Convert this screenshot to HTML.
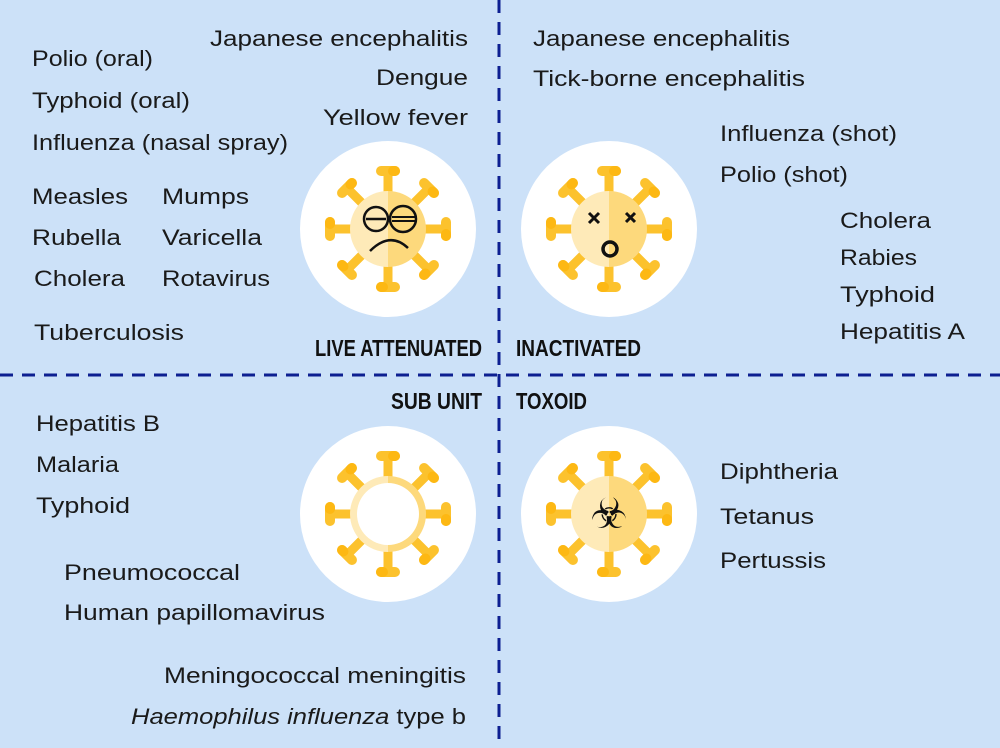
<!DOCTYPE html>
<html><head><meta charset="utf-8"><style>
html,body{margin:0;padding:0;background:#cce1f8;}
svg{display:block}
text{font-family:"Liberation Sans",sans-serif;font-size:22px;fill:#1a1a1a}
.l{font-weight:bold;font-size:23px;fill:#111}
</style></head><body>
<svg width="1000" height="748" viewBox="0 0 1000 748" xmlns="http://www.w3.org/2000/svg">
<defs>
<g id="spikes">
 <g id="sp"><rect x="-4.5" y="-56" width="9" height="20" fill="#fcc22d"/><rect x="-12" y="-63" width="24" height="10" rx="5" fill="#fcc22d"/><rect x="0" y="-63" width="12" height="10" rx="5" fill="#fdb813"/></g>
 <use href="#sp" transform="rotate(45)"/><use href="#sp" transform="rotate(90)"/><use href="#sp" transform="rotate(135)"/>
 <use href="#sp" transform="rotate(180)"/><use href="#sp" transform="rotate(225)"/><use href="#sp" transform="rotate(270)"/><use href="#sp" transform="rotate(315)"/>
</g>
<g id="body">
 <path d="M0,-38 A38,38 0 0 0 0,38 Z" fill="#feeab8"/>
 <path d="M0,-38 A38,38 0 0 1 0,38 Z" fill="#fdd97c"/>
</g>
</defs>
<rect width="1000" height="748" fill="#cce1f8"/>
<line x1="499" y1="0" x2="499" y2="748" stroke="#0d1f91" stroke-width="3" stroke-dasharray="13 9"/>
<line x1="0" y1="375" x2="1000" y2="375" stroke="#0d1f91" stroke-width="3" stroke-dasharray="13 9"/>

<circle cx="388" cy="229" r="88" fill="#fff"/>
<circle cx="609" cy="229" r="88" fill="#fff"/>
<circle cx="388" cy="514" r="88" fill="#fff"/>
<circle cx="609" cy="514" r="88" fill="#fff"/>

<g transform="translate(388,229)"><use href="#spikes"/><use href="#body"/>
 <circle cx="-12" cy="-10" r="12" fill="none" stroke="#111" stroke-width="2.5"/><circle cx="15" cy="-10" r="13" fill="none" stroke="#111" stroke-width="2.5"/>
 <line x1="-22" y1="-10" x2="-2" y2="-10" stroke="#111" stroke-width="2.5"/><line x1="4" y1="-12" x2="27" y2="-12" stroke="#111" stroke-width="2"/><line x1="4" y1="-8" x2="27" y2="-8" stroke="#111" stroke-width="2"/>
 <path d="M-18,22 Q2,2 20,19" fill="none" stroke="#111" stroke-width="2.5"/></g>
<g transform="translate(609,229)"><use href="#spikes"/><use href="#body"/>
 <path d="M-20,-16 l10,10 M-10,-16 l-10,10 M17,-16 l9,9 M26,-16 l-9,9" stroke="#111" stroke-width="3"/>
 <circle cx="1" cy="20" r="7" fill="none" stroke="#111" stroke-width="3.5"/></g>
<g transform="translate(388,514)"><use href="#spikes"/><use href="#body"/><circle r="31" fill="#fff"/></g>
<g transform="translate(609,514)"><use href="#spikes"/><use href="#body"/>
 <text x="0" y="14" text-anchor="middle" style="font-family:'DejaVu Sans',sans-serif;font-size:42px;fill:#111">☣</text></g>

<g lengthAdjust="spacingAndGlyphs">
<text x="32" y="66" textLength="121" lengthAdjust="spacingAndGlyphs">Polio (oral)</text>
<text x="32" y="108" textLength="158" lengthAdjust="spacingAndGlyphs">Typhoid (oral)</text>
<text x="32" y="150" textLength="256" lengthAdjust="spacingAndGlyphs">Influenza (nasal spray)</text>
<text x="210" y="46" textLength="258" lengthAdjust="spacingAndGlyphs">Japanese encephalitis</text>
<text x="376" y="85" textLength="92" lengthAdjust="spacingAndGlyphs">Dengue</text>
<text x="323" y="125" textLength="145" lengthAdjust="spacingAndGlyphs">Yellow fever</text>
<text x="32" y="204" textLength="96" lengthAdjust="spacingAndGlyphs">Measles</text><text x="162" y="204" textLength="87" lengthAdjust="spacingAndGlyphs">Mumps</text>
<text x="32" y="245" textLength="89" lengthAdjust="spacingAndGlyphs">Rubella</text><text x="162" y="245" textLength="100" lengthAdjust="spacingAndGlyphs">Varicella</text>
<text x="34" y="286" textLength="91" lengthAdjust="spacingAndGlyphs">Cholera</text><text x="162" y="286" textLength="108" lengthAdjust="spacingAndGlyphs">Rotavirus</text>
<text x="34" y="340" textLength="150" lengthAdjust="spacingAndGlyphs">Tuberculosis</text>
<text class="l" x="315" y="356" textLength="167" lengthAdjust="spacingAndGlyphs">LIVE ATTENUATED</text>
<text class="l" x="516" y="356" textLength="125" lengthAdjust="spacingAndGlyphs">INACTIVATED</text>
<text class="l" x="391" y="409" textLength="91" lengthAdjust="spacingAndGlyphs">SUB UNIT</text>
<text class="l" x="516" y="409" textLength="71" lengthAdjust="spacingAndGlyphs">TOXOID</text>

<text x="533" y="46" textLength="257" lengthAdjust="spacingAndGlyphs">Japanese encephalitis</text>
<text x="533" y="86" textLength="272" lengthAdjust="spacingAndGlyphs">Tick-borne encephalitis</text>
<text x="720" y="141" textLength="177" lengthAdjust="spacingAndGlyphs">Influenza (shot)</text>
<text x="720" y="182" textLength="128" lengthAdjust="spacingAndGlyphs">Polio (shot)</text>
<text x="840" y="228" textLength="91" lengthAdjust="spacingAndGlyphs">Cholera</text>
<text x="840" y="265" textLength="77" lengthAdjust="spacingAndGlyphs">Rabies</text>
<text x="840" y="302" textLength="95" lengthAdjust="spacingAndGlyphs">Typhoid</text>
<text x="840" y="339" textLength="125" lengthAdjust="spacingAndGlyphs">Hepatitis A</text>

<text x="36" y="431" textLength="124" lengthAdjust="spacingAndGlyphs">Hepatitis B</text>
<text x="36" y="472" textLength="83" lengthAdjust="spacingAndGlyphs">Malaria</text>
<text x="36" y="513" textLength="94" lengthAdjust="spacingAndGlyphs">Typhoid</text>
<text x="64" y="580" textLength="176" lengthAdjust="spacingAndGlyphs">Pneumococcal</text>
<text x="64" y="620" textLength="261" lengthAdjust="spacingAndGlyphs">Human papillomavirus</text>
<text x="164" y="683" textLength="302" lengthAdjust="spacingAndGlyphs">Meningococcal meningitis</text>
<text x="131" y="724" textLength="335" lengthAdjust="spacingAndGlyphs"><tspan font-style="italic">Haemophilus influenza</tspan> type b</text>

<text x="720" y="479" textLength="118" lengthAdjust="spacingAndGlyphs">Diphtheria</text>
<text x="720" y="524" textLength="94" lengthAdjust="spacingAndGlyphs">Tetanus</text>
<text x="720" y="568" textLength="106" lengthAdjust="spacingAndGlyphs">Pertussis</text>
</g>
</svg>
</body></html>
